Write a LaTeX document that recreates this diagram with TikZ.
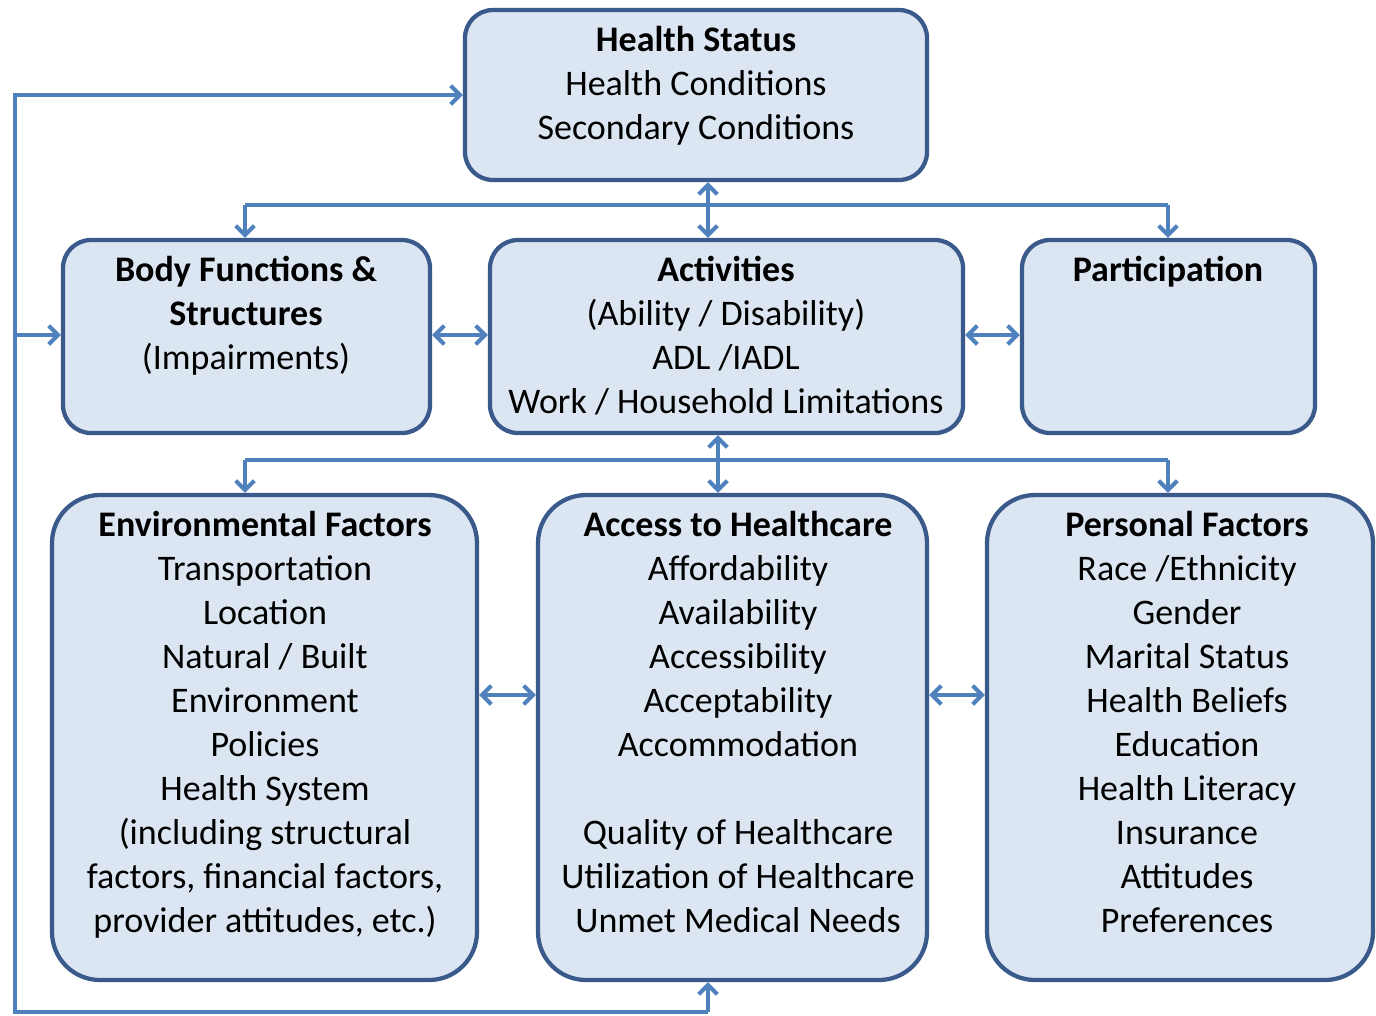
\documentclass[tikz,border=0pt]{standalone}
\usepackage{fontspec}
\setmainfont{Carlito}
\usetikzlibrary{arrows.meta,fit}
\definecolor{boxfill}{HTML}{DCE6F2}
\definecolor{boxline}{HTML}{3A5A8C}
\definecolor{connc}{HTML}{4F81BD}
\begin{document}
\begin{tikzpicture}[x=0.75pt,y=-0.75pt,
  box/.style={draw=boxline,fill=boxfill,line width=3.2pt,rounded corners=21pt,inner sep=0pt},
  bigbox/.style={box,rounded corners=36pt},
  txt/.style={anchor=north,align=center,inner sep=0pt,font=\fontsize{27}{33}\selectfont},
  conn/.style={draw=connc,line width=3pt},
  arr/.style={conn,-{Straight Barb[length=7pt,width=14pt,line width=3pt]}},
  darr/.style={conn,{Straight Barb[length=7pt,width=14pt,line width=3pt]}-{Straight Barb[length=7pt,width=14pt,line width=3pt]}}]
\useasboundingbox[fill=white] (0,0) rectangle (1376,1015);

% boxes
\node[box,fit={(465,10) (927,180)}] (hs) {};
\node[box,fit={(63,240) (430,433)}] (bf) {};
\node[box,fit={(490,240) (963,433)}] (act) {};
\node[box,fit={(1022,240) (1315,433)}] (par) {};
\node[bigbox,fit={(52,495) (477,980)}] (env) {};
\node[bigbox,fit={(538,495) (927,980)}] (acc) {};
\node[bigbox,fit={(987,495) (1373,980)}] (pers) {};

% texts
\node[txt] (hst) at (696,25.5) {\textbf{Health Status}\\Health Conditions\\Secondary Conditions};
\node[txt] (bft) at (246,255.5) {\textbf{Body Functions \&}\\\textbf{Structures}\\(Impairments)};
\node[txt] (actt) at (726,255.5) {\textbf{Activities}\\(Ability / Disability)\\ADL /IADL\\Work / Household Limitations};
\node[txt] (part) at (1168,255.5) {\textbf{Participation}};
\node[txt] (envt) at (265,510.5) {\textbf{Environmental Factors}\\Transportation\\Location\\Natural / Built\\Environment\\Policies\\Health System\\(including structural\\factors, financial factors,\\provider attitudes, etc.)};
\node[txt] (acct) at (738,510.5) {\textbf{Access to Healthcare}\\Affordability\\Availability\\Accessibility\\Acceptability\\Accommodation\\[33pt]Quality of Healthcare\\Utilization of Healthcare\\Unmet Medical Needs};
\node[txt] (perst) at (1187,510.5) {\textbf{Personal Factors}\\Race /Ethnicity\\Gender\\Marital Status\\Health Beliefs\\Education\\Health Literacy\\Insurance\\Attitudes\\Preferences};

% coordinates
\coordinate (u1) at (245,205);
\coordinate (u2) at (1168,205);
\coordinate (um) at (708,205);
\coordinate (l1) at (245,460);
\coordinate (l2) at (1168,460);
\coordinate (lm) at (718,460);
\coordinate (r1) at (0,335);
\coordinate (r2) at (0,695);
\coordinate (f1) at (708,1012);
\coordinate (f2) at (15,1012);
\coordinate (f3) at (15,95);
\coordinate (f4) at (15,335);

% upper bus
\draw[conn] (u1) -- (u2);
\draw[arr] (u1) -- (bf.north -| u1);
\draw[arr] (u2) -- (par.north -| u2);
\draw[darr] (hs.south -| um) -- (act.north -| um);
% side arrows
\draw[darr] (bf.east |- r1) -- (act.west |- r1);
\draw[darr] (act.east |- r1) -- (par.west |- r1);
% lower bus
\draw[conn] (l1) -- (l2);
\draw[arr] (l1) -- (env.north -| l1);
\draw[arr] (l2) -- (pers.north -| l2);
\draw[darr] (act.south -| lm) -- (acc.north -| lm);
\draw[darr] (env.east |- r2) -- (acc.west |- r2);
\draw[darr] (acc.east |- r2) -- (pers.west |- r2);
% feedback loop
\draw[arr,line join=miter] (f1) -- (f2) -- (f3) -- (hs.west |- f3);
\draw[arr] (f1) -- (acc.south -| f1);
\draw[arr] (f4) -- (bf.west |- f4);
\end{tikzpicture}
\end{document}
